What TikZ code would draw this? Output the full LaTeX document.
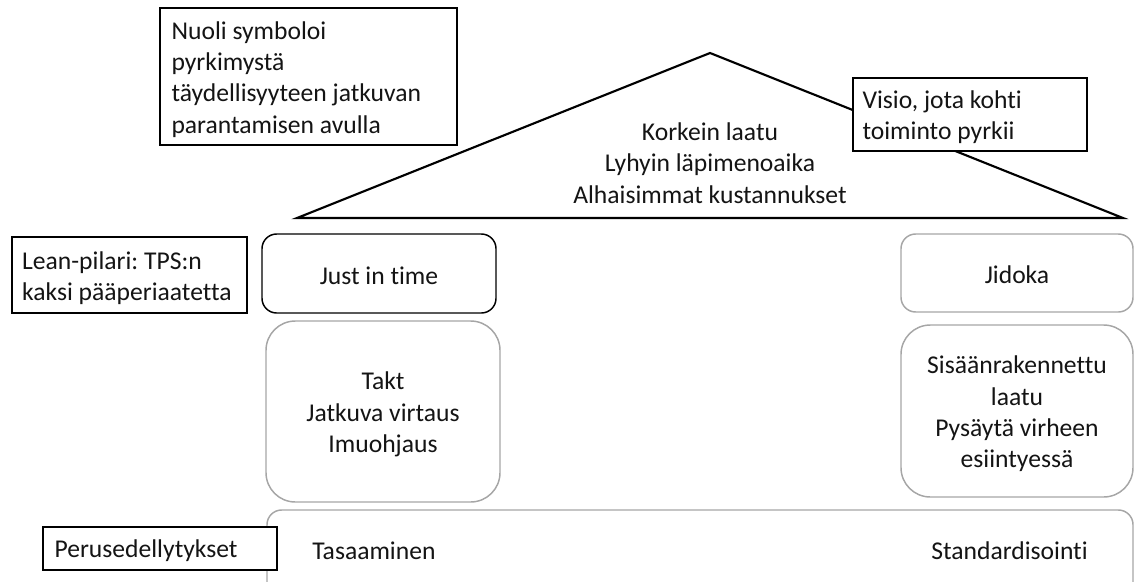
\documentclass[tikz,border=0pt]{standalone}
\usepackage{fontspec}
\setmainfont{Carlito}[Ligatures=NoCommon]
\definecolor{pillargray}{RGB}{166,166,166}
\definecolor{inkgray}{RGB}{20,20,20}
\newcommand{\labelfont}{\fontsize{19.2}{23.5}\selectfont}
\frenchspacing
\begin{document}
\labelfont
\begin{tikzpicture}[x=0.75pt,y=-0.75pt,
  every node/.style={font=\labelfont, text=inkgray},
  note/.style={draw=black, line width=1.1pt, fill=white, rectangle, inner sep=0pt},
  keybox/.style={draw=black, line width=1.1pt, fill=white, rectangle,
    rounded corners=11pt, inner sep=0pt},
  pillar/.style={draw=pillargray, line width=1.1pt, fill=white, rectangle,
    rounded corners=11pt, inner sep=0pt},
  bigpillar/.style={pillar, rounded corners=22pt},
  roofline/.style={draw=black, line width=1.6pt, line join=miter},
  ctext/.style={inner sep=0pt, align=center},
  ltext/.style={inner sep=0pt, align=left, anchor=west},
  plain/.style={inner sep=0pt}
]
\useasboundingbox (0,0) rectangle (1136,582);
\clip (0,0) rectangle (1136,582);

% roof of the house
\coordinate (eaveL) at (297,218);
\coordinate (ridge) at (710,53);
\coordinate (eaveR) at (1123,218);
\draw[roofline] (eaveL) -- (ridge) -- (eaveR) -- cycle;
\node[ctext] (goals) at (710,163)
  {Korkein laatu\\Lyhyin läpimenoaika\\Alhaisimmat kustannukset};

% explanatory notes
\node[note, minimum width=222.75pt, minimum height=102.75pt] (arrownote) at (308.5,76.5) {};
\node[ltext] (arrownote-text) at ([xshift=9pt,yshift=-2.25pt]arrownote.west)
  {Nuoli symboloi\\pyrkimystä\\täydellisyyteen jatkuvan\\parantamisen avulla};
\node[note, minimum width=175.5pt, minimum height=54.75pt] (visionnote) at (970,114.5) {};
\node[ltext] (visionnote-text) at ([xshift=7.5pt,yshift=-2.25pt]visionnote.west)
  {Visio, jota kohti\\toiminto pyrkii};
\node[note, minimum width=176.25pt, minimum height=57pt] (pillarnote) at (129.5,275) {};
\node[ltext] (pillarnote-text) at ([xshift=8pt,yshift=-2.25pt]pillarnote.west)
  {Lean-pilari: TPS:n\\kaksi pääperiaatetta};

% the two pillars
\node[keybox, minimum width=175.5pt, minimum height=59.25pt] (jit) at (379,273.5) {};
\node[ctext] (jit-text) at ([yshift=-1.5pt]jit.center) {Just in time};
\node[pillar, minimum width=174pt, minimum height=58.5pt] (jidoka) at (1017,273) {};
\node[ctext] (jidoka-text) at ([yshift=-1.5pt]jidoka.center) {Jidoka};
\node[bigpillar, minimum width=175.5pt, minimum height=135.75pt] (flow) at (383,411.5) {};
\node[ctext] (flow-text) at ([yshift=-2.25pt]flow.center)
  {Takt\\Jatkuva virtaus\\Imuohjaus};
\node[bigpillar, minimum width=174pt, minimum height=129pt] (quality) at (1017,411) {};
\node[ctext] (quality-text) at ([yshift=-2.25pt]quality.center)
  {Sisäänrakennettu\\laatu\\Pysäytä virheen\\esiintyessä};

% foundation
\node[pillar, minimum width=649.5pt, minimum height=97.5pt] (base) at (700,575) {};
\node[plain, anchor=west] (levelling) at (312,550.5) {Tasaaminen};
\node[plain, anchor=east] (standard) at (1088,550.5) {Standardisointi};
\node[note, minimum width=175.5pt, minimum height=32.25pt] (basenote) at (160,548.5) {};
\node[ltext] (basenote-text) at ([xshift=9pt,yshift=-1.5pt]basenote.west) {Perusedellytykset};
\end{tikzpicture}
\end{document}
